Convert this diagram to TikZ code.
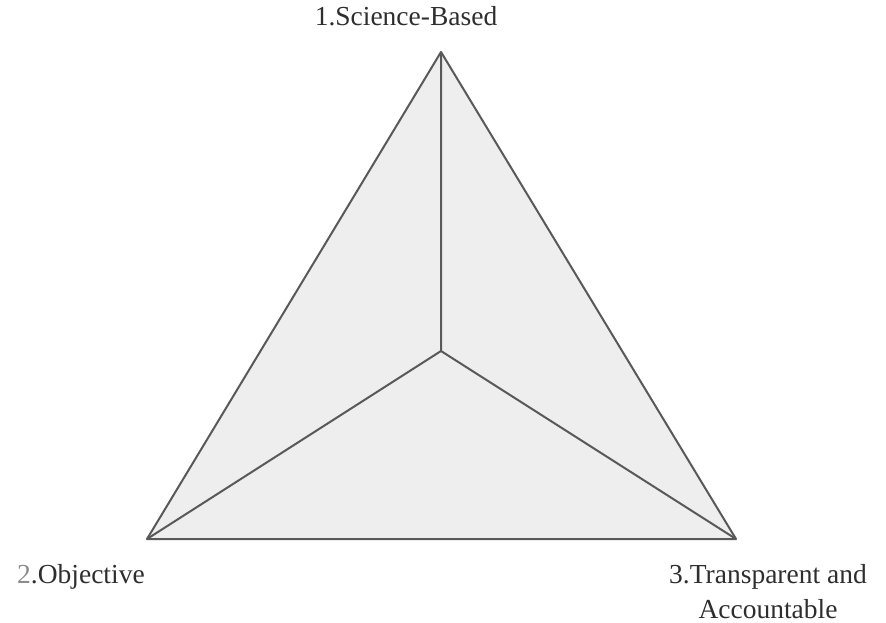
\documentclass[tikz,border=0pt]{standalone}
\usepackage{fontspec}
\setmainfont{Liberation Serif}
\usetikzlibrary{positioning}
\definecolor{edgegray}{HTML}{595959}
\definecolor{facegray}{HTML}{EEEEEE}
\definecolor{textgray}{HTML}{2E2E2E}
\definecolor{numgray}{HTML}{8C8C8C}

\begin{document}
\begin{tikzpicture}[x=1pt,y=-1pt,every node/.style={font=\fontsize{27.5}{35}\selectfont,text=textgray},
  edge/.style={draw=edgegray,line width=2pt,line join=round},
  lbl/.style={inner sep=0pt,align=center}]
\useasboundingbox (0,0) rectangle (886,623);
\coordinate (top) at (441,52);
\coordinate (left) at (147,539);
\coordinate (right) at (736,539);
\coordinate (mid) at (441,351);
\fill[facegray] (top)--(left)--(right)--cycle;
\draw[edge] (top)--(left)--(right)--cycle;
\draw[edge] (top)--(mid) (left)--(mid) (right)--(mid);
\node[lbl,anchor=base] (sci) at (406,26) {1.Science-Based};
\node[lbl,anchor=base west] (obj) at (17,583) {\textcolor{numgray}{2}.Objective};
\node[lbl,anchor=base] (tra) at (768,618) {3.Transparent and\\Accountable};
\end{tikzpicture}
\end{document}
